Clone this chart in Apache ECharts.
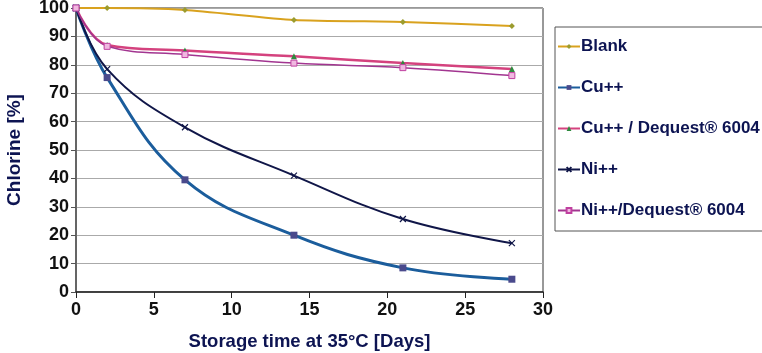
<!DOCTYPE html>
<html>
<head>
<meta charset="utf-8">
<script src="https://cdn.jsdelivr.net/npm/echarts@6/dist/echarts.min.js"></script>
<style>
  html, body { margin: 0; padding: 0; background: #fff; }
  #chart { width: 762px; height: 353px; }
</style>
</head>
<body>
<div id="chart"></div>
<script>
// storage days
const days = [0, 2, 7, 14, 21, 28];
// chlorine remaining [%]
const blank = [100, 100, 99.3, 95.8, 95.1, 93.7];
const cu = [100, 75.5, 39.5, 20, 8.5, 4.5];
const cuDequest = [100, 87, 85, 83, 80.6, 78.5];
const ni = [100, 78.5, 58, 41, 25.7, 17.2];
const niDequest = [100, 86.5, 83.6, 80.6, 79, 76.2];

const navy = '#0d1452';
const font = 'Liberation Sans';
const xMark = 'path://M0,0L10,10M10,0L0,10';

const pairs = v => days.map((d, i) => [d, v[i]]);

const chart = echarts.init(document.getElementById('chart'));
chart.setOption({
  animation: false,
  grid: {
    left: 76, right: 219, top: 8, bottom: 61,
    outerBoundsMode: 'none', containLabel: false,
    show: true, borderColor: '#333', borderWidth: 1
  },
  xAxis: {
    type: 'value', min: 0, max: 30, interval: 5,
    name: 'Storage time at 35°C [Days]',
    nameLocation: 'middle', nameGap: 40,
    nameTextStyle: { color: navy, fontWeight: 'bold', fontSize: 18.5, fontFamily: font },
    axisLine: { lineStyle: { color: '#222', width: 1.5 } },
    axisTick: { show: true, length: 6, lineStyle: { color: '#222' } },
    axisLabel: { color: '#111', fontWeight: 'bold', fontSize: 18, fontFamily: font, margin: 9 },
    splitLine: { show: false }
  },
  yAxis: {
    type: 'value', min: 0, max: 100, interval: 10,
    name: 'Chlorine [%]',
    nameLocation: 'middle', nameGap: 52,
    nameTextStyle: { color: navy, fontWeight: 'bold', fontSize: 19, fontFamily: font },
    axisLine: { show: true, lineStyle: { color: '#555', width: 1.5 } },
    axisTick: { show: true, length: 5, lineStyle: { color: '#555' } },
    axisLabel: { color: '#111', fontWeight: 'bold', fontSize: 18, fontFamily: font, margin: 7 },
    splitLine: { show: true, lineStyle: { color: '#aaa', width: 1 } }
  },
  legend: {
    orient: 'vertical',
    left: 555, top: 27,
    padding: [11, 30, 12, 2],
    itemGap: 24,
    itemWidth: 22, itemHeight: 6,
    borderColor: '#555', borderWidth: 1,
    textStyle: { color: navy, fontWeight: 'bold', fontSize: 17, fontFamily: font, padding: [0, 0, 0, -4] },
    data: ['Blank', 'Cu++', 'Cu++ / Dequest® 6004', 'Ni++', 'Ni++/Dequest® 6004']
  },
  series: [
    {
      name: 'Blank', type: 'line', data: pairs(blank), smooth: 0.2,
      symbol: 'diamond', symbolSize: 6,
      lineStyle: { color: '#d9a21e', width: 2 },
      itemStyle: { color: '#9c9c2e' }
    },
    {
      name: 'Cu++', type: 'line', data: pairs(cu), smooth: 0.4,
      symbol: 'rect', symbolSize: 7,
      lineStyle: { color: '#1b5d9c', width: 3 },
      itemStyle: { color: '#4a4a8c' }
    },
    {
      name: 'Cu++ / Dequest® 6004', type: 'line', data: pairs(cuDequest), smooth: 0.4,
      symbol: 'triangle', symbolSize: 6,
      lineStyle: { color: '#d4427e', width: 2.5 },
      itemStyle: { color: '#2e8a3e' }
    },
    {
      name: 'Ni++', type: 'line', data: pairs(ni), smooth: 0.4,
      symbol: xMark, symbolSize: 6,
      lineStyle: { color: '#101648', width: 2 },
      itemStyle: { color: 'transparent', borderColor: '#101648', borderWidth: 1.2 }
    },
    {
      name: 'Ni++/Dequest® 6004', type: 'line', data: pairs(niDequest), smooth: 0.4,
      symbol: 'rect', symbolSize: 6,
      lineStyle: { color: '#a23590', width: 1.5 },
      itemStyle: { color: '#f0b8e0', borderColor: '#c040a0', borderWidth: 1 }
    }
  ]
});
</script>
</body>
</html>
